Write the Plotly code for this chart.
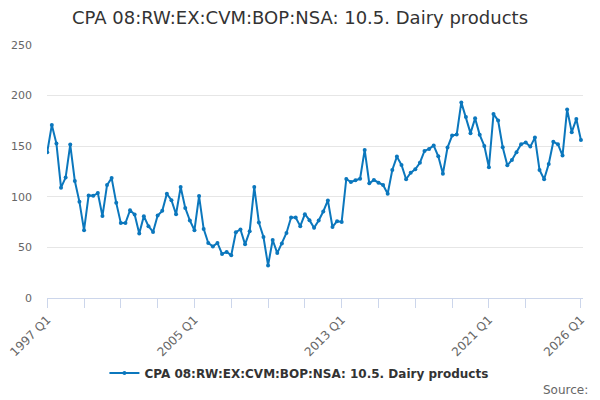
import plotly.graph_objects as go

# quarterly series, 1997 Q1 .. 2026 Q1
first_year = 1997
values = [
    144, 171, 152.6, 109, 119, 151.6, 115.6, 95, 67, 101.4,
    101, 103.7, 81, 111.6, 118.5, 94, 74, 74, 86.8, 82.5,
    63.7, 80.9, 71, 65.3, 81.5, 86.1, 103, 96.7, 82.8, 109.6,
    89, 76.6, 67, 100.7, 68.3, 54.4, 51, 54.4, 43.5, 45.5,
    42.2, 65, 67.7, 53, 66, 109.6, 74.6, 60.3, 32.2, 57.3,
    44.4, 53.8, 64.3, 79.5, 79.5, 71, 82.8, 76.9, 69.3, 76.6,
    85.5, 96.4, 70.2, 75.9, 75.2, 117.6, 114.6, 116.3, 117.9, 146.3,
    113.3, 116.6, 113.9, 111.6, 103, 126.5, 139.7, 131.4, 117.3, 123.8,
    127.2, 133.7, 145.3, 147.3, 150.6, 140, 122.8, 148.6, 160.5, 161.5,
    193.3, 178.8, 162.9, 177.5, 161.2, 150.3, 129.2, 181.7, 175.4, 149,
    131.1, 136.4, 144, 152, 153.6, 149.6, 158.5, 126.5, 117.3, 132.4,
    154.3, 152, 140.7, 186.3, 163.9, 176.8, 156.2,
]
quarters = [f"{first_year + i // 4} Q{i % 4 + 1}" for i in range(len(values))]

labelled_ticks = ["1997 Q1", "2005 Q1", "2013 Q1", "2021 Q1", "2026 Q1"]
minor_ticks = ["1999 Q1", "2001 Q1", "2003 Q1", "2007 Q1", "2009 Q1",
               "2011 Q1", "2015 Q1", "2017 Q1", "2019 Q1", "2023 Q1"]

series_name = "CPA 08:RW:EX:CVM:BOP:NSA: 10.5. Dairy products"
line_color = "#0b77bd"

tick_vals = sorted(labelled_ticks + minor_ticks)
tick_text = [t if t in labelled_ticks else "" for t in tick_vals]

fig = go.Figure()
fig.add_trace(go.Scatter(
    x=quarters, y=values, name=series_name,
    mode="lines+markers",
    line=dict(color=line_color, width=2),
    marker=dict(color=line_color, size=4),
))

fig.update_layout(
    width=600, height=400,
    paper_bgcolor="white", plot_bgcolor="white",
    font=dict(family="DejaVu Sans", color="#666666", size=11),
    margin=dict(l=47, r=17, t=45, b=102, autoexpand=False),
    title=dict(
        text=series_name, x=0.5, xanchor="center", xref="container",
        y=0.955, yanchor="middle",
        font=dict(size=18, color="#333333"),
    ),
    showlegend=True,
    legend=dict(
        orientation="h", x=0.47, xanchor="center",
        y=-0.296, yanchor="middle",
        font=dict(size=12, color="#333333", weight="bold"),
    ),
    annotations=[dict(
        text="Source:", xref="paper", yref="paper",
        x=1.013, y=-0.365, xanchor="right", yanchor="middle",
        showarrow=False, font=dict(size=12, color="#666666"),
    )],
)

fig.update_xaxes(
    type="category",
    range=[-0.05, 116.45],
    automargin=False,
    tickmode="array", tickvals=tick_vals, ticktext=tick_text,
    tickangle=-45,
    ticks="outside", ticklen=9, tickcolor="#ccd6eb",
    showline=True, linecolor="#ccd6eb",
    showgrid=False,
    tickfont=dict(size=12, color="#666666"),
)
fig.update_yaxes(
    range=[0, 250], dtick=50,
    automargin=False,
    showgrid=True, gridcolor="#e6e6e6",
    zeroline=False,
    ticklabelstandoff=14,
    tickfont=dict(size=11, color="#666666"),
)

# the page body has a default 8px margin; drop it so the figure sits at 0,0
fig.write_html(
    "out.html",
    config={"displayModeBar": False},
    post_script="document.body.style.margin='0';",
)
